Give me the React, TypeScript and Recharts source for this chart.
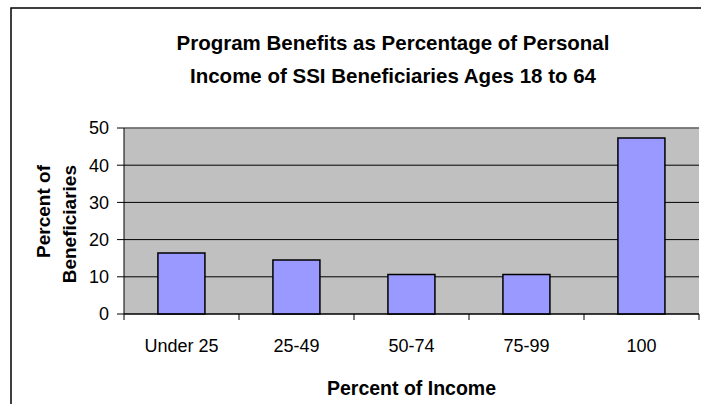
import React from "react";
import { BarChart, Bar, XAxis, YAxis, CartesianGrid, ReferenceLine } from "recharts";

const categories = ["Under 25", "25-49", "50-74", "75-99", "100"];
const percentOfBeneficiaries = [16.4, 14.5, 10.6, 10.6, 47.3];
const yTicks = [0, 10, 20, 30, 40, 50];
const titleLines = ["Program Benefits as Percentage of Personal", "Income of SSI Beneficiaries Ages 18 to 64"];
const yTitleLines = ["Percent of", "Beneficiaries"];
const xTitle = "Percent of Income";

const data = categories.map((c, i) => ({ category: c, value: percentOfBeneficiaries[i] }));

const FONT = "'Liberation Sans', Arial, sans-serif";

const XTick = (props: any) => {
  const { x, y, payload, index } = props;
  const off = payload && typeof payload.offset === "number" ? payload.offset : 57.5;
  return (
    <g>
      <line x1={x - off} x2={x - off} y1={y} y2={y + 6} stroke="#000" strokeWidth={1} />
      {index === categories.length - 1 && (
        <line x1={x + off} x2={x + off} y1={y} y2={y + 6} stroke="#000" strokeWidth={1} />
      )}
      <text x={x} y={y + 25.5} dy="0.71em" textAnchor="middle" fontSize={18} fontFamily={FONT} fill="#000">
        {payload.value}
      </text>
    </g>
  );
};

export default function App() {
  return (
    <div style={{ position: "absolute", left: 0, top: 0, width: 701, height: 404, overflow: "hidden", background: "#fff" }}>
      <BarChart
        width={701}
        height={404}
        data={data}
        margin={{ top: 128, right: 2, bottom: 30, left: 0 }}
        barCategoryGap="29.5%"
      >
        <CartesianGrid vertical={false} stroke="#000" strokeWidth={1} fill="#C0C0C0" fillOpacity={1} />
        <XAxis
          dataKey="category"
          height={60}
          tickLine={false}
          tickSize={0}
          tickMargin={0}
          tick={<XTick />}
          axisLine={{ stroke: "#000", strokeWidth: 1 }}
          interval={0}
        />
        <YAxis
          domain={[0, 50]}
          ticks={yTicks}
          width={124}
          tickSize={7}
          tickMargin={8}
          axisLine={{ stroke: "#000", strokeWidth: 1 }}
          tickLine={{ stroke: "#000", strokeWidth: 1 }}
          tick={{ fontSize: 18, fontFamily: FONT, fill: "#000" }}
          interval={0}
        />
        <YAxis
          yAxisId="right"
          orientation="right"
          width={0}
          domain={[0, 50]}
          tick={false}
          tickLine={false}
          axisLine={{ stroke: "#808080", strokeWidth: 1.5 }}
        />
        <ReferenceLine y={50} stroke="#808080" strokeWidth={1.5} />
        <Bar dataKey="value" fill="#9999FF" stroke="#000" strokeWidth={1.5} isAnimationActive={false} />
      </BarChart>
      <svg
        width={701}
        height={404}
        style={{ position: "absolute", left: 0, top: 0, pointerEvents: "none" }}
      >
        <rect x={11} y={8} width={800} height={500} fill="none" stroke="#000" strokeWidth={1.5} />
        {titleLines.map((t, i) => (
          <text key={t} x={393} y={50 + i * 33} textAnchor="middle" fontSize={20.5} fontWeight="bold" fontFamily={FONT} fill="#000">
            {t}
          </text>
        ))}
        {yTitleLines.map((t, i) => {
          const bx = 50 + i * 25.5;
          return (
            <text key={t} x={bx} y={165} transform={`rotate(-90 ${bx} 165)`} textAnchor="end" fontSize={19} fontWeight="bold" fontFamily={FONT} fill="#000">
              {t}
            </text>
          );
        })}
        <text x={411.5} y={395} textAnchor="middle" fontSize={19.5} fontWeight="bold" fontFamily={FONT} fill="#000">
          {xTitle}
        </text>
      </svg>
    </div>
  );
}
